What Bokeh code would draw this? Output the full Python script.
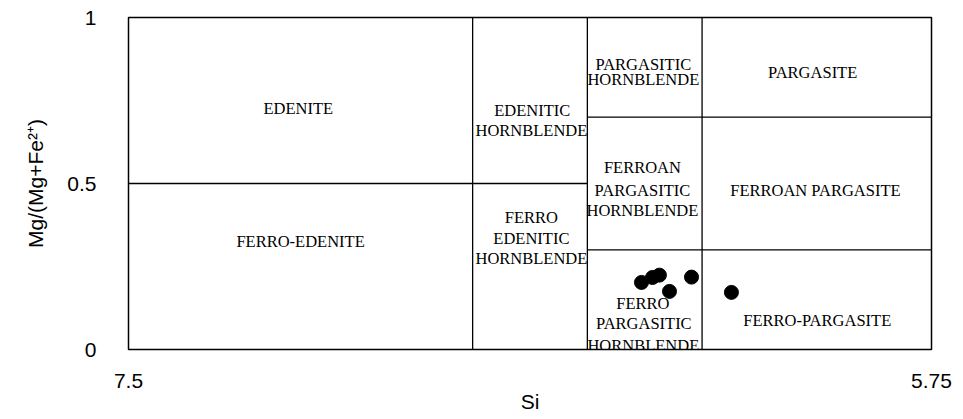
from bokeh.plotting import figure
from bokeh.models import Range1d, FixedTicker, ColumnDataSource
from bokeh.embed import file_html
from bokeh.resources import INLINE
from bokeh.core.properties import value

# ---- data: analysed amphiboles ----
si = [6.382, 6.358, 6.343, 6.321, 6.273, 6.186]
mg_ratio = [0.202, 0.217, 0.224, 0.175, 0.218, 0.172]

# ---- axis ticks ----
x_ticks = [7.5, 5.75]
x_tick_labels = ["7.5", "5.75"]
y_ticks = [0, 0.5, 1]
y_tick_labels = ["0", "0.5", "1"]

# ---- field boundaries (Si, Mg/(Mg+Fe2+)) ----
bound_si0 = [6.75, 6.5, 6.25, 7.5, 6.5, 6.5]
bound_mg0 = [0.0, 0.0, 0.0, 0.5, 0.7, 0.3]
bound_si1 = [6.75, 6.5, 6.25, 6.5, 5.75, 5.75]
bound_mg1 = [1.0, 1.0, 1.0, 0.5, 0.7, 0.3]

# ---- field names (one entry per text line) ----
field_text = ["EDENITE", "FERRO-EDENITE",
              "EDENITIC", "HORNBLENDE",
              "FERRO", "EDENITIC", "HORNBLENDE",
              "PARGASITIC", "HORNBLENDE",
              "FERROAN", "PARGASITIC", "HORNBLENDE",
              "FERRO", "PARGASITIC", "HORNBLENDE",
              "PARGASITE", "FERROAN PARGASITE", "FERRO-PARGASITE"]
field_si = [7.130, 7.125,
            6.620, 6.622,
            6.622, 6.622, 6.622,
            6.378, 6.378,
            6.380, 6.380, 6.380,
            6.379, 6.377, 6.378,
            6.009, 6.003, 5.999]
field_mg = [0.726, 0.325,
            0.720, 0.660,
            0.398, 0.334, 0.274,
            0.858, 0.813,
            0.548, 0.479, 0.419,
            0.139, 0.078, 0.012,
            0.834, 0.479, 0.087]

p = figure(width=963, height=415, output_backend="svg", toolbar_location=None,
           x_range=Range1d(7.5, 5.75), y_range=Range1d(0, 1),
           min_border_left=128, min_border_top=17, min_border_right=32,
           min_border_bottom=66)
p.background_fill_color = "white"
p.border_fill_color = "white"
p.outline_line_color = "black"
p.outline_line_width = 1.5
p.xgrid.visible = False
p.ygrid.visible = False

p.segment(x0=bound_si0, y0=bound_mg0, x1=bound_si1, y1=bound_mg1,
          line_color="black", line_width=1.3)

src = ColumnDataSource(dict(x=field_si, y=field_mg, t=field_text))
p.text(x="x", y="y", text="t", source=src, text_font=value("Liberation Serif"),
       text_font_size="16.5px", text_align="center", text_baseline="middle",
       text_color="black")

p.scatter(si, mg_ratio, size=14, color="black")

# axes
p.xaxis.ticker = FixedTicker(ticks=x_ticks)
p.xaxis.major_label_overrides = {t: l for t, l in zip(x_ticks, x_tick_labels)}
p.yaxis.ticker = FixedTicker(ticks=y_ticks)
p.yaxis.major_label_overrides = {t: l for t, l in zip(y_ticks, y_tick_labels)}
for ax in (p.xaxis, p.yaxis):
    ax.axis_line_color = None
    ax.major_tick_line_color = None
    ax.minor_tick_line_color = None
    ax.major_tick_out = 0
    ax.major_tick_in = 0
    ax.major_label_text_font = "Liberation Sans"
    ax.major_label_text_font_size = "21px"
    ax.major_label_text_color = "black"
    ax.axis_label_text_font = "Liberation Sans"
    ax.axis_label_text_font_size = "21px"
    ax.axis_label_text_font_style = "normal"
    ax.axis_label_text_color = "black"

p.xaxis.axis_label = "Si"
p.xaxis.major_label_standoff = 24
p.xaxis.axis_label_standoff = -1
p.yaxis.axis_label = "Mg/(Mg+Fe²⁺)"
p.yaxis.major_label_standoff = 32
p.yaxis.axis_label_standoff = 17

open("out.html", "w").write(file_html(p, INLINE))
